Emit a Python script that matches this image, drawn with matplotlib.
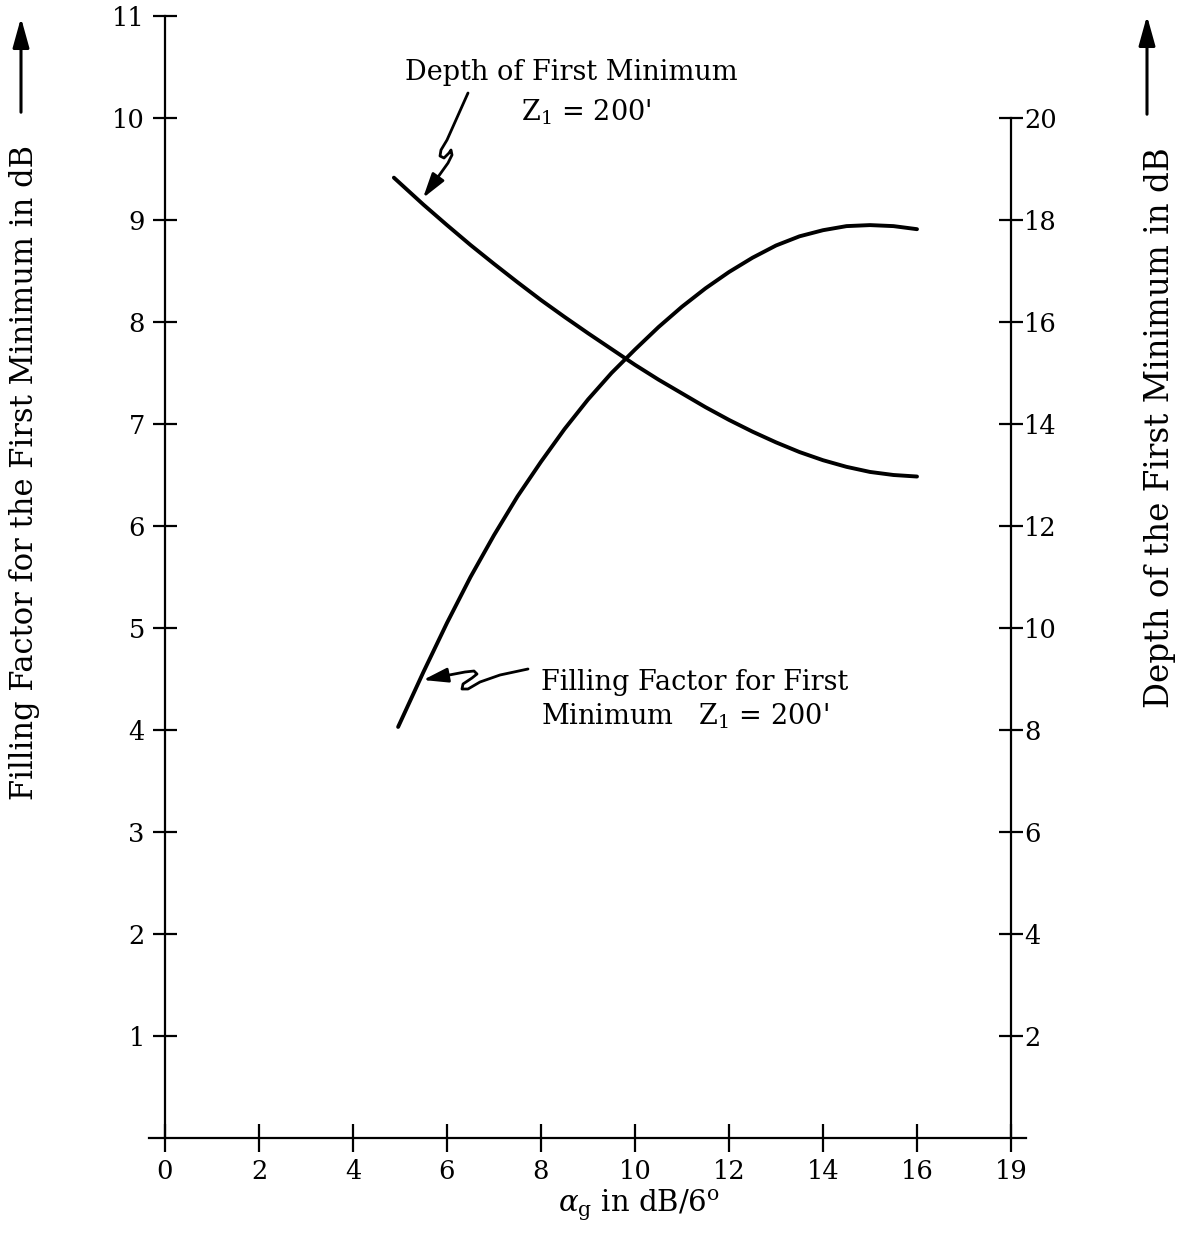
import matplotlib
matplotlib.use("Agg")
import matplotlib.pyplot as plt
from matplotlib.path import Path
from matplotlib.patches import FancyArrowPatch

# ---- data ----
filling_x = [4.96, 5.5, 6.0, 6.5, 7.0, 7.5, 8.0, 8.5, 9.0, 9.5, 10.0, 10.5, 11.0, 11.5, 12.0, 12.5, 13.0, 13.5, 14.0, 14.5, 15.0, 15.5, 16.0]
filling_y = [4.03, 4.57, 5.05, 5.50, 5.91, 6.29, 6.63, 6.95, 7.24, 7.50, 7.73, 7.95, 8.15, 8.33, 8.49, 8.63, 8.75, 8.84, 8.90, 8.94, 8.95, 8.94, 8.91]

depth_x = [4.87, 5.5, 6.0, 6.5, 7.0, 7.5, 8.0, 8.5, 9.0, 9.5, 10.0, 10.5, 11.0, 11.5, 12.0, 12.5, 13.0, 13.5, 14.0, 14.5, 15.0, 15.5, 16.0]
depth_y = [18.83, 18.30, 17.90, 17.51, 17.14, 16.78, 16.43, 16.10, 15.78, 15.47, 15.16, 14.87, 14.60, 14.33, 14.08, 13.85, 13.64, 13.45, 13.29, 13.16, 13.06, 13.00, 12.97]

x_ticks = [0, 2, 4, 6, 8, 10, 12, 14, 16, 18]
x_ticklabels = ["0", "2", "4", "6", "8", "10", "12", "14", "16", "19"]
left_ticks = [1, 2, 3, 4, 5, 6, 7, 8, 9, 10, 11]
right_ticks = [2, 4, 6, 8, 10, 12, 14, 16, 18, 20]

left_label = "Filling Factor for the First Minimum in dB"
right_label = "Depth of the First Minimum in dB"
x_label = r"$\alpha_{\rm g}$ in dB/6$^{\rm o}$"

plt.rcParams["font.family"] = ["DejaVu Serif"]
plt.rcParams["mathtext.fontset"] = "dejavuserif"

W, H = 1179, 1257
fig = plt.figure(figsize=(W / 100, H / 100), dpi=100)

def fx(px):
    return px / W

def fy(py):
    return 1 - py / H

def P(px, py):
    return (fx(px), fy(py))

ax = fig.add_axes([fx(165), fy(1138), fx(1011) - fx(165), fy(16) - fy(1138)])
ax.set_xlim(0, 18)
ax.set_ylim(0, 11)
ax2 = ax.twinx()
ax2.set_ylim(0, 22)

lw_axis = 1.6
for a in (ax, ax2):
    a.patch.set_visible(False)
    a.spines["top"].set_visible(False)
ax.spines["right"].set_visible(False)
ax2.spines["left"].set_visible(False)
ax2.spines["bottom"].set_visible(False)
ax.spines["left"].set_bounds(0, 11)
ax.spines["bottom"].set_bounds(-0.34, 18.32)
ax2.spines["right"].set_bounds(0, 20)
for s in (ax.spines["left"], ax.spines["bottom"], ax2.spines["right"]):
    s.set_linewidth(lw_axis)

ax.set_xticks(x_ticks)
ax.set_xticklabels(x_ticklabels)
ax.set_yticks(left_ticks)
ax.set_yticklabels([str(t) for t in left_ticks])
ax2.set_yticks(right_ticks)
ax2.set_yticklabels([str(t) for t in right_ticks])

ax.tick_params(axis="x", direction="inout", length=20, width=lw_axis, pad=5, labelsize=18.5)
ax.tick_params(axis="y", direction="inout", length=17, width=lw_axis, pad=6, labelsize=18.5)
ax2.tick_params(axis="y", direction="inout", length=17, width=lw_axis, pad=1, labelsize=18.5)

ax.plot(filling_x, filling_y, color="black", lw=2.8, solid_capstyle="round",
        solid_joinstyle="round", clip_on=False)
ax2.plot(depth_x, depth_y, color="black", lw=2.8, solid_capstyle="round",
         solid_joinstyle="round", clip_on=False)

# axis labels
fig.text(fx(25), fy(472), left_label, rotation=90, ha="center", va="center", fontsize=22)
fig.text(fx(1160), fy(428), right_label, rotation=90, ha="center", va="center", fontsize=23.5)
fig.text(fx(558), fy(1212), x_label, ha="left", va="baseline", fontsize=21)

# upward arrows beside the axis labels
for xa, y0, y1 in ((21, 115, 15), (1147, 117, 13)):
    fig.add_artist(FancyArrowPatch(P(xa, y0), P(xa, y1), transform=fig.transFigure,
                                   arrowstyle="-|>,head_length=0.9,head_width=0.25",
                                   mutation_scale=20, lw=2.2, color="black"))

# annotation texts
fs_ann = 19.5
fig.text(fx(405), fy(73), "Depth of First Minimum", ha="left", va="center", fontsize=fs_ann)
fig.text(fx(521), fy(112), r"Z$_{\rm 1}$ = 200'", ha="left", va="center", fontsize=fs_ann)
fig.text(fx(541), fy(683), "Filling Factor for First", ha="left", va="center", fontsize=fs_ann)
fig.text(fx(541), fy(716), r"Minimum   Z$_{\rm 1}$ = 200'", ha="left", va="center", fontsize=fs_ann)

# squiggly leader arrows
def squiggle(pts):
    verts = [P(*p) for p in pts]
    codes = [Path.MOVETO] + [Path.LINETO] * (len(verts) - 1)
    fig.add_artist(FancyArrowPatch(path=Path(verts, codes), transform=fig.transFigure,
                                   arrowstyle="-|>,head_length=0.75,head_width=0.22",
                                   mutation_scale=20, lw=2.0, color="black",
                                   joinstyle="round", capstyle="round"))

squiggle([(468, 93), (447, 140), (441, 150), (440, 156), (444, 158), (449, 153), (451, 150),
          (452, 155), (448, 163), (423, 198)])
squiggle([(528, 669), (500, 675), (480, 682), (468, 689), (462, 689), (463, 684), (472, 678),
          (477, 674), (474, 671), (465, 672), (423, 680)])

fig.savefig("out.png", dpi=100)
